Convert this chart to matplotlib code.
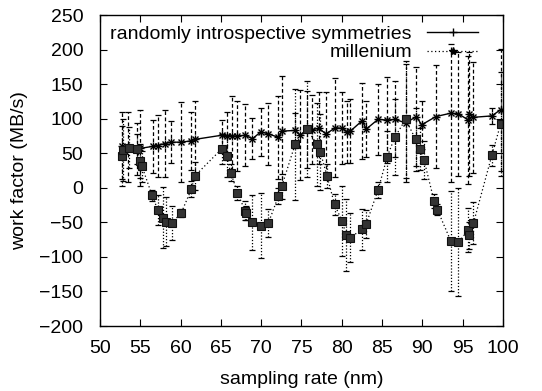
import matplotlib
matplotlib.use('Agg')
import matplotlib.pyplot as plt
from matplotlib.lines import Line2D
import numpy as np

matplotlib.rcParams.update({'font.family': ['Liberation Sans', 'DejaVu Sans'], 'font.size': 14})

# randomly introspective symmetries
sym_x = [52.72, 53.45, 54.59, 55.00, 56.56, 57.18, 58.01, 58.85, 60.09, 61.34, 61.75,
         65.08, 65.70, 66.32, 67.05, 67.99, 68.92, 69.96, 70.89, 72.14, 72.55, 74.21,
         74.84, 75.67, 76.29, 77.12, 78.06, 79.20, 80.03, 80.65, 81.07, 82.52, 83.04,
         84.50, 85.64, 86.57, 87.92, 89.27, 89.90, 91.66, 93.53, 94.47, 95.71, 95.82,
         96.34, 98.62, 99.7]
sym_y = [61, 59, 56, 57, 60, 61, 64, 66, 66, 68, 70,
         76, 75, 75, 75, 76, 71, 81, 78, 73, 82, 83,
         76, 84, 84, 86, 78, 87, 86, 81, 82, 97, 85,
         99, 98, 99, 94, 103, 91, 103, 108, 107, 98, 107,
         102, 104, 113]
sym_err = [48, 50, 38, 55, 38, 45, 48, 30, 58, 42, 56,
           22, 35, 58, 50, 45, 30, 35, 45, 60, 80, 25,
           65, 56, 50, 52, 60, 72, 52, 45, 46, 55, 40,
           51, 62, 55, 85, 72, 35, 75, 100, 90, 92, 90,
           80, 12, 88]

# millenium
mil_x = [52.72, 52.82, 53.55, 54.59, 55.00, 55.21, 56.46, 57.18, 57.80, 58.22, 58.95,
         60.09, 61.34, 61.75, 65.08, 65.70, 66.22, 67.05, 67.99, 68.09, 68.92, 69.96,
         70.89, 72.14, 72.55, 74.21, 75.67, 76.92, 77.33, 78.17, 79.10, 80.03, 80.55,
         81.07, 82.52, 83.04, 84.50, 85.64, 86.57, 87.92, 89.17, 89.69, 90.21, 91.45,
         91.87, 93.53, 94.47, 95.71, 95.82, 96.34, 98.62, 99.7]
mil_y = [46, 55, 58, 56, 39, 31, -11, -32, -43, -49, -51,
         -36, -2, 17, 56, 46, 22, -7, -33, -37, -50, -55,
         -51, -12, 2, 63, 85, 63, 52, 17, -24, -48, -68,
         -72, -60, -52, -3, 45, 73, 99, 70, 56, 40, -19,
         -32, -77, -79, -61, -69, -51, 47, 92]
mil_err = [43, 45, 30, 22, 25, 22, 8, 22, 44, 35, 24,
           6, 12, 20, 22, 30, 12, 10, 14, 10, 40, 47,
           20, 12, 18, 80, 70, 60, 55, 18, 15, 50, 52,
           35, 30, 20, 12, 37, 55, 85, 45, 30, 28, 10,
           8, 72, 78, 32, 20, 30, 15, 75]

x_ticks = np.arange(50, 101, 5)
y_ticks = np.arange(-200, 251, 50)

fig = plt.figure(figsize=(5.42, 3.91), dpi=100)
ax = fig.add_axes([0.1845, 0.1662, 0.7435, 0.7954])

eb1 = ax.errorbar(sym_x, sym_y, yerr=sym_err, fmt='none', ecolor='k',
                  elinewidth=0.9, capsize=2, capthick=0.9)
eb1[2][0].set_linestyle((0, (3, 2)))
eb2 = ax.errorbar(mil_x, mil_y, yerr=mil_err, fmt='none', ecolor='k',
                  elinewidth=0.9, capsize=2, capthick=0.9)
eb2[2][0].set_linestyle((0, (1, 1.5)))

ax.plot(sym_x, sym_y, color='k', lw=1, marker='+', ms=6, mew=1)
ax.plot(sym_x, sym_y, ls='none', color='k', marker='x', ms=4, mew=1)
ax.plot(mil_x, mil_y, color='k', lw=0.9, ls=(0, (1, 2)), marker='s', ms=5.5,
        mfc='#333333', mec='#111111', mew=0.8)

handles = [Line2D([], [], color='k', lw=1, marker='+', ms=6),
           Line2D([], [], color='k', lw=0.9, ls=(0, (1, 2)), marker='*', ms=6)]
leg = ax.legend(handles, ['randomly introspective symmetries', 'millenium'],
                loc='upper right', bbox_to_anchor=(0.938, 0.967), frameon=False,
                markerfirst=False, handlelength=2.6, handletextpad=0.8,
                borderpad=0, borderaxespad=0, labelspacing=0.05)
leg._legend_box._children[-1]._children[0].align = 'right'

ax.set_xlim(50, 100)
ax.set_ylim(-200, 250)
ax.set_xticks(x_ticks)
ax.set_yticks(y_ticks)
ax.tick_params(direction='in', length=5, width=0.8, top=True, right=True)
ax.tick_params(axis='y', pad=12)
ax.tick_params(axis='x', pad=10)
for s in ax.spines.values():
    s.set_linewidth(1)
ax.set_xlabel('sampling rate (nm)', labelpad=10)
ax.set_ylabel('work factor (MB/s)', labelpad=8)

fig.savefig('out.png', dpi=100)
